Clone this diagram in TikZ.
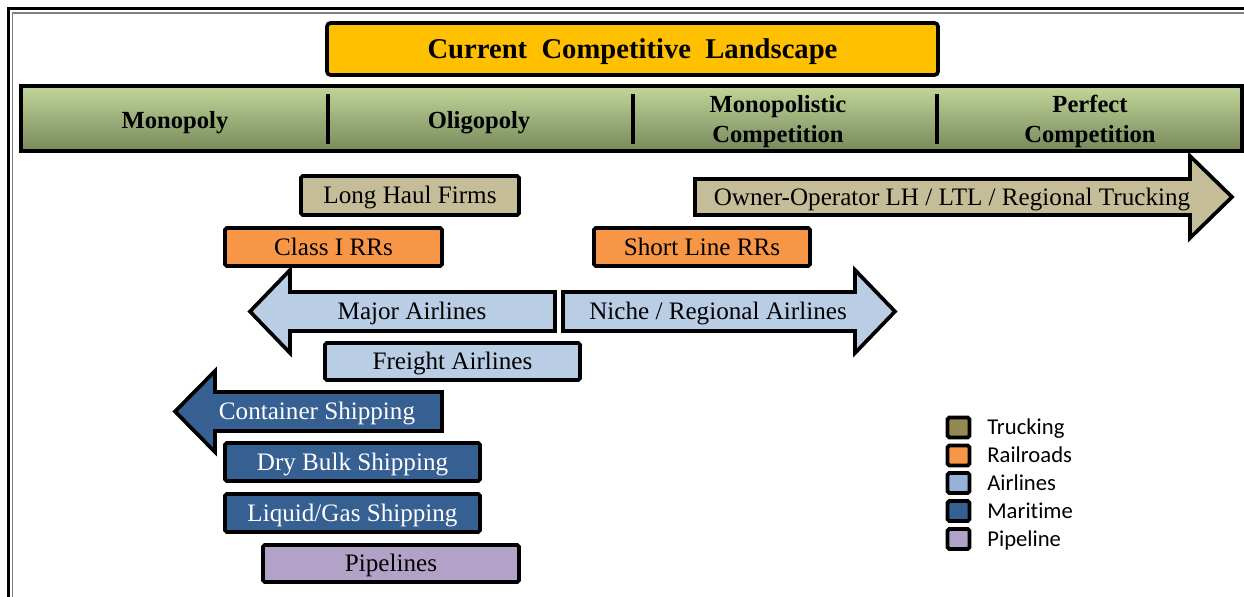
\documentclass[tikz,border=0pt]{standalone}
\usepackage{fontspec}
\setmainfont{Liberation Serif}
\newfontfamily\legendfont[Ligatures={NoCommon}]{Carlito}
\definecolor{titlegold}{HTML}{FFC000}
\definecolor{bartop}{HTML}{C2D69A}
\definecolor{barbottom}{HTML}{77895A}
\definecolor{truckfill}{HTML}{C4BD97}
\definecolor{truckkey}{HTML}{938953}
\definecolor{railfill}{HTML}{F79646}
\definecolor{airfill}{HTML}{B9CDE5}
\definecolor{airkey}{HTML}{95B3D7}
\definecolor{seafill}{HTML}{376092}
\definecolor{pipefill}{HTML}{B3A2C7}
\begin{document}
\begin{tikzpicture}[x=0.02cm,y=-0.02cm,
  outline/.style={draw=black,line width=2.1pt,line join=miter},
  itembox/.style={outline,rounded corners=1pt,inner sep=0pt,
    text height=9.5pt,text depth=0pt,
    font=\fontsize{14.3}{16}\selectfont},
  boxsize/.style 2 args={minimum width=#1*0.02cm,minimum height=#2*0.02cm},
  itemtext/.style={inner sep=0pt,text height=9.5pt,text depth=0pt,
    font=\fontsize{14.3}{16}\selectfont},
  barlabel/.style={inner sep=0pt,align=center,
    font=\fontsize{14}{17}\selectfont\bfseries},
  divider/.style={line width=2.3pt},
  keybox/.style={draw=black,line width=2.2pt,rounded corners=1pt,
    minimum width=0.44cm,minimum height=0.4cm,inner sep=0pt},
  keytext/.style={anchor=west,inner sep=0pt,text height=8.5pt,text depth=0pt,
    font=\legendfont\fontsize{12.9}{14}\selectfont}]
\useasboundingbox (0,0) rectangle (1244,597);

% page frame
\draw[line width=1.7pt] (8.5,597) -- (8.5,9) -- (1244,9);
\draw[gray,line width=0.6pt] (12.5,597) -- (12.5,13) -- (1244,13);

% title
\node[itembox,fill=titlegold,rounded corners=2pt,boxsize={611}{52},
  text height=10.6pt,font=\fontsize{16.3}{18}\selectfont\bfseries]
  (title) at (632.5,49) {Current\ \ Competitive\ \ Landscape};

% market structure bar
\node[outline,top color=bartop,bottom color=barbottom,inner sep=0pt,
  boxsize={1221}{65}] (bar) at (631.5,118.5) {};
\draw[divider] (328,94) -- (328,144);
\draw[divider] (633,94) -- (633,144);
\draw[divider] (937,94) -- (937,144);
\node[barlabel] (mono) at (175,123) {Monopoly};
\node[barlabel] (oligo) at (479,123) {Oligopoly};
\node[barlabel] (monocomp) at (778,121.5) {Monopolistic\\Competition};
\node[barlabel] (perfect) at (1090,121.5) {Perfect\\Competition};

% trucking
\node[itembox,fill=truckfill,boxsize={218}{39}] (longhaul) at (410,195.5) {Long Haul Firms};
\draw[outline,fill=truckfill] (695,179) -- (1190,179) -- (1190,156) -- (1232,197)
  -- (1190,238) -- (1190,215) -- (695,215) -- cycle;
\node[itemtext] (owner) at (952,197) {Owner-Operator LH / LTL / Regional Trucking};

% railroads
\node[itembox,fill=railfill,boxsize={217}{38}] (classi) at (333.5,247) {Class I RRs};
\node[itembox,fill=railfill,boxsize={216}{38}] (shortline) at (702,247) {Short Line RRs};

% airlines
\draw[outline,fill=airfill] (555,292) -- (290,292) -- (290,270) -- (250,311.5)
  -- (290,353) -- (290,331) -- (555,331) -- cycle;
\node[itemtext] (major) at (412,311.5) {Major Airlines};
\draw[outline,fill=airfill] (563,292) -- (855,292) -- (855,270) -- (895,311.5)
  -- (855,353) -- (855,331) -- (563,331) -- cycle;
\node[itemtext] (niche) at (718,311.5) {Niche / Regional Airlines};
\node[itembox,fill=airfill,boxsize={255}{37}] (freight) at (452.5,361.5) {Freight Airlines};

% maritime
\draw[outline,fill=seafill] (442,392) -- (215,392) -- (215,371) -- (175,411.5)
  -- (215,452) -- (215,431) -- (442,431) -- cycle;
\node[itemtext,text=white] (container) at (317,411) {Container Shipping};
\node[itembox,fill=seafill,text=white,boxsize={255}{38}] (drybulk) at (352.5,462) {Dry Bulk Shipping};
\node[itembox,fill=seafill,text=white,boxsize={255}{38}] (liquid) at (352.5,513) {Liquid/Gas Shipping};

% pipelines
\node[itembox,fill=pipefill,boxsize={256}{37}] (pipes) at (391,563.5) {Pipelines};

% legend
\node[keybox,fill=truckkey] (ktruck) at (958.5,427.5) {};
\node[keytext] (ltruck) at (987,427.5) {Trucking};
\node[keybox,fill=railfill] (krail) at (958.5,455.5) {};
\node[keytext] (lrail) at (987,455.5) {Railroads};
\node[keybox,fill=airkey] (kair) at (958.5,483) {};
\node[keytext] (lair) at (987,483) {Airlines};
\node[keybox,fill=seafill] (ksea) at (958.5,511) {};
\node[keytext] (lsea) at (987,511) {Maritime};
\node[keybox,fill=pipefill] (kpipe) at (958.5,539) {};
\node[keytext] (lpipe) at (987,539) {Pipeline};
\end{tikzpicture}
\end{document}
